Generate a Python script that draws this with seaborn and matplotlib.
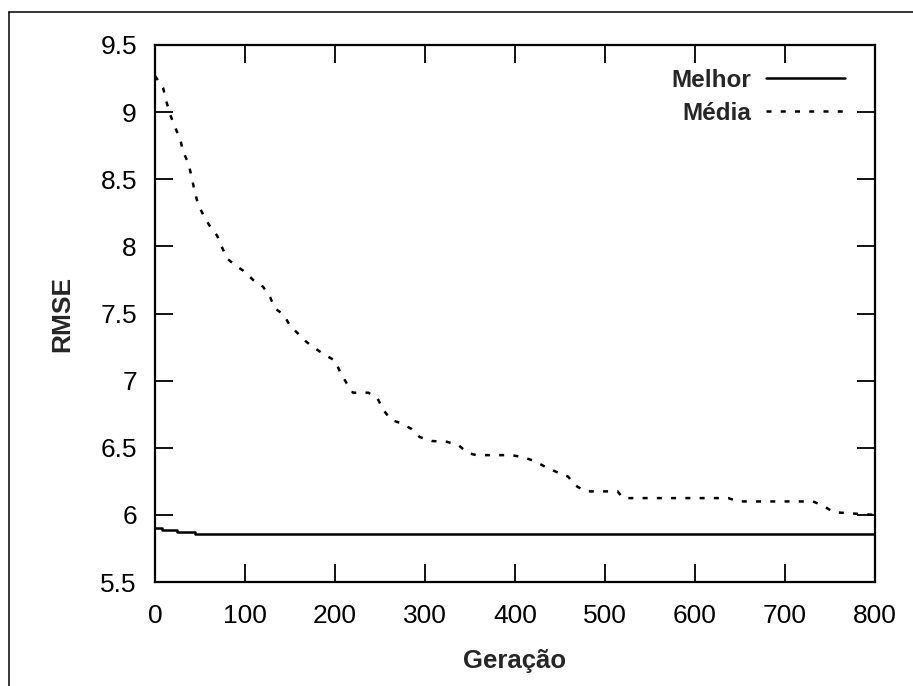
import matplotlib
matplotlib.use("Agg")
import matplotlib.pyplot as plt
from matplotlib.lines import Line2D
import seaborn as sns
import pandas as pd

# ---- data ----
media_gen = [0, 2, 9, 13, 17, 22, 28, 31, 37, 41, 44, 48, 54, 61, 69, 74, 80, 89,
             100, 109, 120, 128, 133, 143, 150, 159, 168, 178, 189, 200, 206, 213,
             220, 237, 247, 254, 262, 274, 285, 294, 308, 324, 337, 348, 357, 396,
             409, 422, 433, 446, 459, 467, 478, 514, 520, 637, 648, 731, 742, 754,
             787, 800]
media_rmse = [9.27, 9.25, 9.18, 9.07, 8.98, 8.89, 8.80, 8.71, 8.62, 8.51, 8.41, 8.31,
              8.23, 8.15, 8.08, 8.00, 7.91, 7.86, 7.81, 7.75, 7.70, 7.62, 7.54, 7.49,
              7.41, 7.35, 7.29, 7.24, 7.19, 7.15, 7.06, 6.98, 6.91, 6.91, 6.87, 6.78,
              6.71, 6.68, 6.64, 6.58, 6.55, 6.545, 6.52, 6.46, 6.445, 6.445, 6.43,
              6.40, 6.36, 6.32, 6.285, 6.22, 6.175, 6.175, 6.125, 6.125, 6.10, 6.10,
              6.07, 6.02, 6.005, 6.00]
melhor_gen = [0, 8, 24, 44, 800]
melhor_rmse = [5.90, 5.888, 5.873, 5.858, 5.858]

x_ticks = [0, 100, 200, 300, 400, 500, 600, 700, 800]
y_ticks = [5.5, 6, 6.5, 7, 7.5, 8, 8.5, 9, 9.5]
y_tick_labels = ["5.5", "6", "6.5", "7", "7.5", "8", "8.5", "9", "9.5"]

labels = ["Melhor", "Média"]
x_label = "Geração"
y_label = "RMSE"

df_melhor = pd.DataFrame({"gen": melhor_gen, "rmse": melhor_rmse})
df_media = pd.DataFrame({"gen": media_gen, "rmse": media_rmse})

# ---- style ----
sns.set_style("ticks")
plt.rcParams["font.family"] = ["Liberation Sans", "DejaVu Sans"]

W, H = 913, 686
fig = plt.figure(figsize=(W / 100, H / 100), dpi=100)
ax = fig.add_axes([155 / W, 1 - 582 / H, (875 - 155) / W, (582 - 45) / H])

sns.lineplot(data=df_melhor, x="gen", y="rmse", ax=ax, color="black", lw=1.8,
             drawstyle="steps-post", label=labels[0], estimator=None)
sns.lineplot(data=df_media, x="gen", y="rmse", ax=ax, color="black", lw=1.8,
             linestyle=(0, (2.0, 3.7)), label=labels[1], estimator=None)

ax.set_xlim(0, 800)
ax.set_ylim(5.5, 9.5)
ax.set_xticks(x_ticks)
ax.set_xticklabels([str(t) for t in x_ticks])
ax.set_yticks(y_ticks)
ax.set_yticklabels(y_tick_labels)
ax.tick_params(direction="in", length=13, width=1.3, top=True, right=True,
               labelsize=19, pad=13, colors="black")
ax.tick_params(axis="x", pad=16)
for s in ax.spines.values():
    s.set_visible(True)
    s.set_linewidth(1.6)
    s.set_color("black")

narrow = ["Liberation Sans Narrow", "Liberation Sans"]
ax.set_xlabel(x_label, fontsize=18.5, fontweight="bold", family=narrow)
ax.set_ylabel(y_label, fontsize=19, fontweight="bold", family=narrow)
ax.xaxis.set_label_coords(0.5, -(649 - 582) / 537)
ax.yaxis.set_label_coords(-(155 - 74) / 720, 0.5)

leg = ax.legend(loc="upper right", bbox_to_anchor=((845 - 155) / 720, 1 - (69 - 45) / 537),
                frameon=False, markerfirst=False, borderpad=0, borderaxespad=0,
                handlelength=3.25, handletextpad=0.6, labelspacing=0.41,
                prop={"family": "Liberation Sans", "weight": "bold", "size": 17.5})

# outer frame (left and top edges)
fx = 8.5 / W
fy = 1 - 12 / H
fig.add_artist(Line2D([fx, fx], [0, fy], transform=fig.transFigure, color="black", lw=1.1))
fig.add_artist(Line2D([fx, 1], [fy, fy], transform=fig.transFigure, color="black", lw=1.1))

fig.savefig("out.png", dpi=100, facecolor="white")
